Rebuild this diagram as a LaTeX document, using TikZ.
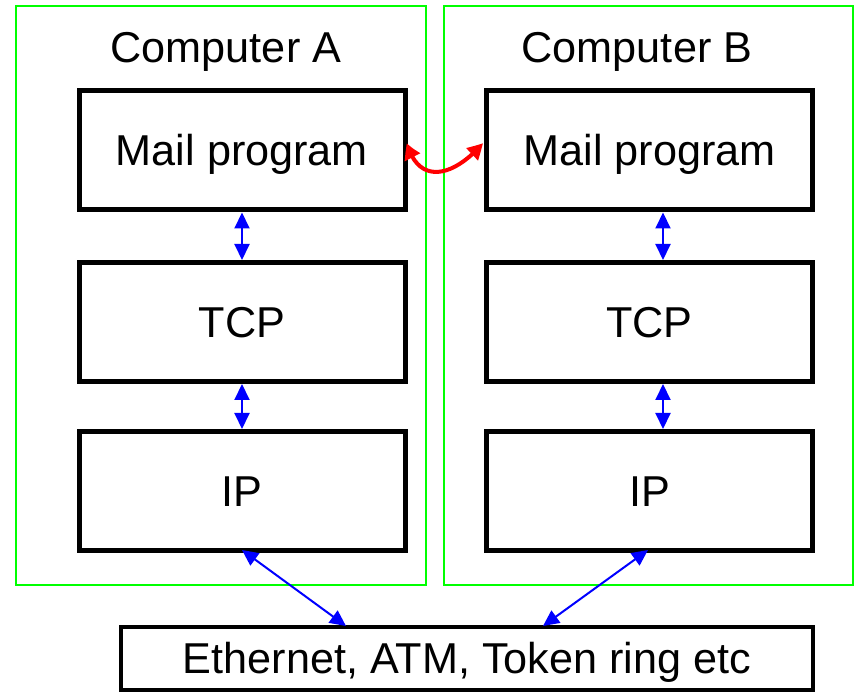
\documentclass[tikz,border=0pt]{standalone}
\usepackage{fontspec}
\setmainfont{Liberation Sans}
\usetikzlibrary{arrows.meta,bending}
\definecolor{grn}{RGB}{0,255,0}
\definecolor{blu}{RGB}{0,0,255}
\definecolor{rd}{RGB}{255,0,0}
\begin{document}
\begin{tikzpicture}[x=1pt,y=-1pt,
  bigfont/.style={font=\fontsize{43.2}{50}\selectfont, text height=30.9pt, text depth=0pt},
  compframe/.style={draw=grn, line width=2pt, rectangle, inner sep=0pt, minimum height=579pt},
  title/.style={bigfont, inner sep=0pt},
  layer/.style={draw=black, line width=5pt, rectangle, inner sep=0pt, minimum width=326pt, minimum height=119pt, bigfont},
  bus/.style={draw=black, line width=4pt, rectangle, inner sep=0pt, minimum width=692pt, minimum height=63pt, bigfont},
  link/.style={draw=blu, line width=2pt, {Triangle[length=16pt,width=15pt]}-{Triangle[length=16pt,width=15pt]}},
  redlink/.style={draw=rd, line width=4pt, {Triangle[length=16pt,width=16pt,bend]}-{Triangle[length=16pt,width=16pt,bend]}}
]
\useasboundingbox (0,0) rectangle (855,692);
% computer frames
\node[compframe, minimum width=410pt] (compA) at (221,295.5) {};
\node[compframe, minimum width=409pt] (compB) at (648.5,295.5) {};
\node[title] (titleA) at (226,47.5) {Computer A};
\node[title] (titleB) at (637,47.5) {Computer B};
% layers A
\node[layer] (mailA) at (242,150.5) {Mail program};
\node[layer] (tcpA) at (242,322) {TCP};
\node[layer] (ipA) at (242,491) {IP};
% layers B
\node[layer] (mailB) at (649.5,150.5) {Mail program};
\node[layer] (tcpB) at (649.5,322) {TCP};
\node[layer] (ipB) at (649.5,491) {IP};
% bus
\node[bus] (net) at (467,658.5) {Ethernet, ATM, Token ring etc};
% helper coordinates
\coordinate (xB) at (663,0);
\coordinate (busA) at (346,626);
\coordinate (busB) at (543,626);
\coordinate (ipAb) at (242,550);
\coordinate (ipBb) at (648,550);
\coordinate (rL) at (407,143);
\coordinate (rR) at (483,143);
% vertical links
\draw[link] (mailA.south) -- (tcpA.north);
\draw[link] (tcpA.south) -- (ipA.north);
\draw[link] (mailB.south -| xB) -- (tcpB.north -| xB);
\draw[link] (tcpB.south -| xB) -- (ipB.north -| xB);
% to the network
\draw[link] (ipAb) -- (busA);
\draw[link] (ipBb) -- (busB);
% peer link
\draw[redlink] (rL) .. controls (418,185) and (453,178) .. (rR);
\end{tikzpicture}
\end{document}
